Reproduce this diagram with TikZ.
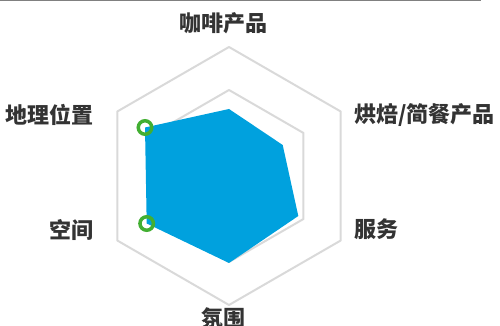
\documentclass[tikz,border=0pt]{standalone}
\usepackage{fontspec}
\newfontfamily\cjk{Noto Sans CJK SC}
\usepackage{xcolor}
\definecolor{GridCol}{RGB}{217,217,217}
\definecolor{AreaCol}{RGB}{0,161,222}
\definecolor{MarkCol}{RGB}{66,175,50}
\definecolor{TextCol}{RGB}{51,51,51}
\definecolor{RuleCol}{RGB}{128,128,128}
\usepackage{tikz}
\tikzstyle{Grid}=[draw=GridCol,line width=2pt,line join=round]
\tikzstyle{Area}=[fill=AreaCol]
\tikzstyle{Marker}=[circle,draw=MarkCol,line width=3.5pt,minimum size=13.5pt,
inner sep=0pt]
\tikzstyle{Label}=[font=\cjk\bfseries\fontsize{22}{22}\selectfont,
text=TextCol,inner sep=0pt]
\tikzstyle{Rule}=[draw=RuleCol,line width=1.5pt]

\begin{document}
\begin{tikzpicture}[x=1pt,y=1pt]
            \useasboundingbox(0,0)rectangle(500,326);
            \coordinate(ruleL)at(0,325.5);
            \coordinate(ruleR)at(481,325.5);
            \draw[Rule](ruleL)--(ruleR);
            \coordinate(c)at(229,150);
            % grid rings
            \foreach \r in {129,86}
                \draw[Grid]([shift={(90:\r)}]c)--([shift={(30:\r)}]c)
                    --([shift={(-30:\r)}]c)--([shift={(-90:\r)}]c)
                    --([shift={(-150:\r)}]c)--([shift={(150:\r)}]c)--cycle;
            % values
            \coordinate(1)at(229.0,217.0);
            \coordinate(2)at(282.7,181.0);
            \coordinate(3)at(298.3,110.0);
            \coordinate(4)at(229.0,63.0);
            \coordinate(5)at(146.7,102.5);
            \coordinate(6)at(145.0,198.5);
            \fill[Area](1)--(2)--(3)--(4)--(5)--(6)--cycle;
            \node[Marker](m5)at(5){};
            \node[Marker](m6)at(6){};
            % axis labels
            \node[Label](l1)at(223,303){咖啡产品};
            \node[Label,anchor=west](l2)at(354,211){烘焙/简餐产品};
            \node[Label,anchor=west](l3)at(354,97){服务};
            \node[Label](l4)at(223,8){氛围};
            \node[Label,anchor=east](l5)at(94,96){空间};
            \node[Label,anchor=east](l6)at(94,211){地理位置};
        \end{tikzpicture}
\end{document}
